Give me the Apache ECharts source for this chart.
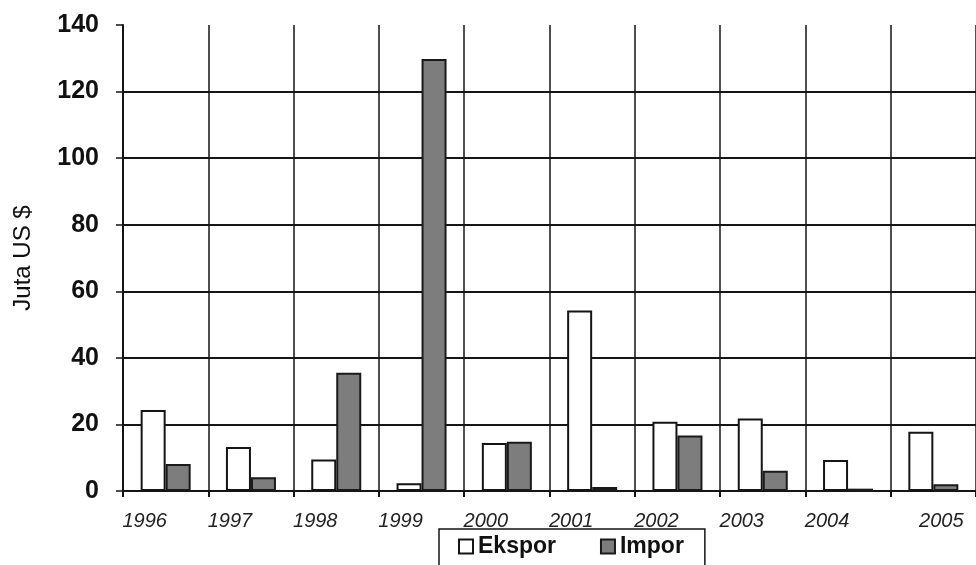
<!DOCTYPE html>
<html>
<head>
<meta charset="utf-8">
<script src="https://cdn.jsdelivr.net/npm/echarts@6/dist/echarts.min.js"></script>
<style>
  html, body { margin: 0; padding: 0; background: #fff; }
  #chart { width: 976px; height: 565px; }
</style>
</head>
<body>
<div id="chart"></div>
<script>
const years = ['1996', '1997', '1998', '1999', '2000', '2001', '2002', '2003', '2004', '2005']
const ekspor = [24.3, 13.2, 9.5, 2.3, 14.4, 54.2, 20.8, 21.8, 9.3, 17.8]
const impor = [8.1, 4.1, 35.5, 129.8, 14.8, 1.2, 16.7, 6.1, 0.7, 2.0]

const lineColor = '#151515'
const font = 'Liberation Sans'

const chart = echarts.init(document.getElementById('chart'), null, { renderer: 'canvas' })

chart.setOption({
  animation: false,
  backgroundColor: '#fff',
  grid: {
    left: 123,
    right: -7,
    top: 25,
    bottom: 74
  },
  legend: {
    data: ['Ekspor', 'Impor'],
    left: 439,
    top: 529,
    padding: [6, 21, 8, 19],
    borderColor: lineColor,
    borderWidth: 1.5,
    itemWidth: 14,
    itemHeight: 14,
    itemGap: 44,
    icon: 'rect',
    textStyle: {
      fontFamily: font,
      fontSize: 23,
      fontWeight: 'bold',
      color: '#111'
    }
  },
  xAxis: {
    type: 'category',
    data: years,
    axisLine: { lineStyle: { color: lineColor, width: 2 } },
    axisTick: { show: true, length: 6, lineStyle: { color: lineColor, width: 2 } },
    splitLine: { show: true, lineStyle: { color: lineColor, width: 1.5 } },
    axisLabel: {
      margin: 20,
      formatter: (v, i) => (i === years.length - 1 ? '{b|' + v + '}' : '{a|' + v + '}'),
      rich: {
        a: { fontFamily: font, fontSize: 20, fontStyle: 'italic', color: '#222', padding: [0, 42, 0, 0] },
        b: { fontFamily: font, fontSize: 20, fontStyle: 'italic', color: '#222', padding: [0, 0, 0, 16] }
      }
    }
  },
  yAxis: {
    type: 'value',
    min: 0,
    max: 140,
    interval: 20,
    name: 'Juta US $',
    nameLocation: 'middle',
    nameGap: 88,
    nameTextStyle: { fontFamily: font, fontSize: 24, color: '#111' },
    axisLine: { show: true, lineStyle: { color: lineColor, width: 2 } },
    axisTick: { show: true, length: 7, lineStyle: { color: lineColor, width: 1.5 } },
    splitLine: { show: true, showMaxLine: false, lineStyle: { color: lineColor, width: 2 } },
    axisLabel: {
      margin: 24,
      fontFamily: font,
      fontSize: 25,
      fontWeight: 'bold',
      color: '#111'
    }
  },
  series: [
    {
      name: 'Ekspor',
      type: 'bar',
      data: ekspor,
      barWidth: 25,
      barGap: '0%',
      itemStyle: { color: '#fff', borderColor: lineColor, borderWidth: 2 }
    },
    {
      name: 'Impor',
      type: 'bar',
      data: impor,
      barWidth: 25,
      itemStyle: { color: '#7d7d7d', borderColor: '#1a1a1a', borderWidth: 2 }
    }
  ]
})
</script>
</body>
</html>
